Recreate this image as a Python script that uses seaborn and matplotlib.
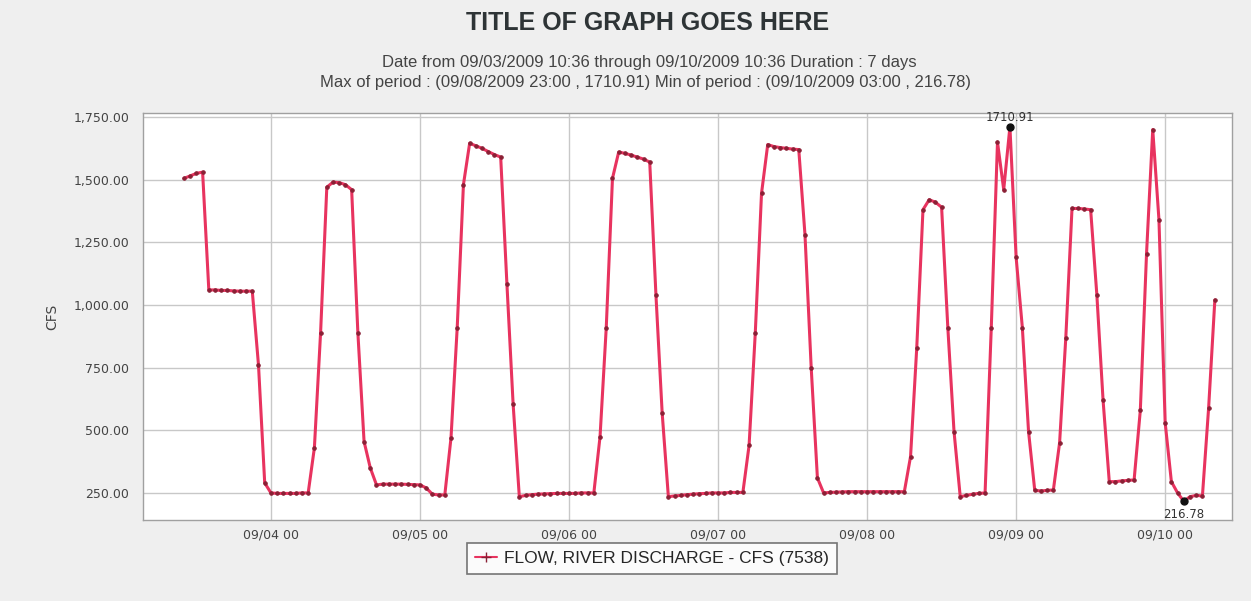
import pandas as pd
import seaborn as sns
import matplotlib.pyplot as plt
import matplotlib.dates as mdates
from matplotlib.ticker import FuncFormatter
from matplotlib.lines import Line2D

# -------------------------------------------------
# Data (hourly readings)
# -------------------------------------------------
start_time = "2009-09-03 10:00"

flow_0903 = [1505, 1515, 1525, 1530, 1060, 1060, 1058, 1058, 1056, 1055, 1055, 1055, 760, 290]
flow_0904 = [250, 248, 248, 248, 248, 250, 250, 430, 890, 1470, 1490, 1488,
             1480, 1460, 890, 455, 350, 282, 285, 285, 285, 285, 284, 283]
flow_0905 = [282, 270, 245, 242, 242, 470, 910, 1480, 1645, 1635, 1625, 1612,
             1600, 1590, 1085, 605, 235, 240, 243, 245, 246, 247, 248, 248]
flow_0906 = [248, 248, 250, 250, 250, 475, 910, 1505, 1610, 1605, 1598, 1590,
             1582, 1570, 1040, 570, 235, 238, 240, 243, 245, 247, 248, 250]
flow_0907 = [250, 250, 252, 252, 252, 440, 890, 1445, 1640, 1632, 1628, 1625,
             1622, 1620, 1280, 750, 310, 250, 252, 253, 254, 255, 255, 255]
flow_0908 = [255, 255, 255, 255, 255, 255, 255, 395, 830, 1380, 1420, 1410,
             1390, 910, 495, 235, 240, 245, 248, 250, 910, 1650, 1460, 1710.91]
flow_0909 = [1190, 910, 495, 260, 258, 260, 262, 450, 870, 1385, 1385, 1383,
             1380, 1040, 620, 295, 295, 298, 300, 302, 580, 1205, 1700, 1340]
flow_0910 = [530, 295, 250, 216.78, 235, 240, 238, 590, 1020]

title = "TITLE OF GRAPH GOES HERE"
subtitle_1 = "Date from 09/03/2009 10:36 through 09/10/2009 10:36 Duration : 7 days"
subtitle_2 = "Max of period : (09/08/2009 23:00 , 1710.91) Min of period : (09/10/2009 03:00 , 216.78)"
series_name = "FLOW, RIVER DISCHARGE - CFS (7538)"
y_label = "CFS"

flow = flow_0903 + flow_0904 + flow_0905 + flow_0906 + flow_0907 + flow_0908 + flow_0909 + flow_0910
df = pd.DataFrame({
    "time": pd.date_range(start_time, periods=len(flow), freq="h"),
    "flow": flow,
})

LINE_COLOR = "#e8335f"
MARK_COLOR = "#8a2035"
SANS = ["Liberation Sans", "DejaVu Sans"]

# -------------------------------------------------
# Plot
# -------------------------------------------------
sns.set_theme(style="whitegrid")
plt.rcParams["font.family"] = ["DejaVu Sans"]

fig = plt.figure(figsize=(12.51, 6.01), dpi=100, facecolor="#efefef")
ax = fig.add_axes([0.1143, 0.1348, 0.8707, 0.6772])
ax.set_facecolor("white")

sns.lineplot(data=df, x="time", y="flow", ax=ax, color=LINE_COLOR, linewidth=2.2,
             marker="o", markersize=2.5, markerfacecolor=MARK_COLOR,
             markeredgecolor=MARK_COLOR)

# max / min markers and labels
i_max = df["flow"].idxmax()
i_min = df["flow"].idxmin()
for i, dy, va in [(i_max, 2, "bottom"), (i_min, -5, "top")]:
    t, v = df.loc[i, "time"], df.loc[i, "flow"]
    ax.plot(t, v, "o", color="#111111", markersize=5, zorder=5)
    ax.annotate(f"{v:.2f}", (t, v), xytext=(0, dy), textcoords="offset points",
                ha="center", va=va, fontsize=8.5, color="#333333")

ax.set_xlim(pd.Timestamp("2009-09-03 03:24"), pd.Timestamp("2009-09-10 10:48"))
ax.set_ylim(142, 1766)
ax.set_yticks([250, 500, 750, 1000, 1250, 1500, 1750])
ax.yaxis.set_major_formatter(FuncFormatter(lambda v, p: f"{v:,.2f}"))
ax.xaxis.set_major_locator(mdates.DayLocator())
ax.xaxis.set_major_formatter(mdates.DateFormatter("%m/%d %H"))

ax.grid(True, color="#c8c8c8", linewidth=1)
for s in ax.spines.values():
    s.set_color("#a0a0a0")
    s.set_linewidth(1)
ax.tick_params(axis="both", labelsize=9, colors="#444444", length=0)
ax.tick_params(axis="y", pad=10)
ax.tick_params(axis="x", pad=6)
ax.set_xlabel("")
ax.set_ylabel(y_label, fontsize=10, color="#444444", labelpad=10)

# titles
fig.text(0.518, 0.962, title, ha="center", va="center", fontsize=18,
         fontweight="bold", color="#2e3436", family=SANS)
fig.text(0.519, 0.896, subtitle_1, ha="center", va="center", fontsize=12,
         color="#444444", family=SANS)
fig.text(0.516, 0.862, subtitle_2, ha="center", va="center", fontsize=12,
         color="#444444", family=SANS)

# legend
handle = Line2D([], [], color=LINE_COLOR, linewidth=1.5, marker="+", markersize=7,
                markeredgecolor=MARK_COLOR)
leg = fig.legend([handle], [series_name], loc="center", bbox_to_anchor=(0.521, 0.071),
                 frameon=True, fancybox=False, handlelength=1.3,
                 borderpad=0.45, handletextpad=0.4, prop={"family": SANS, "size": 12.5})
leg.get_frame().set_edgecolor("#555555")
leg.get_frame().set_facecolor("white")
leg.get_frame().set_linewidth(1.2)

fig.savefig("out.png", dpi=100, facecolor=fig.get_facecolor())
